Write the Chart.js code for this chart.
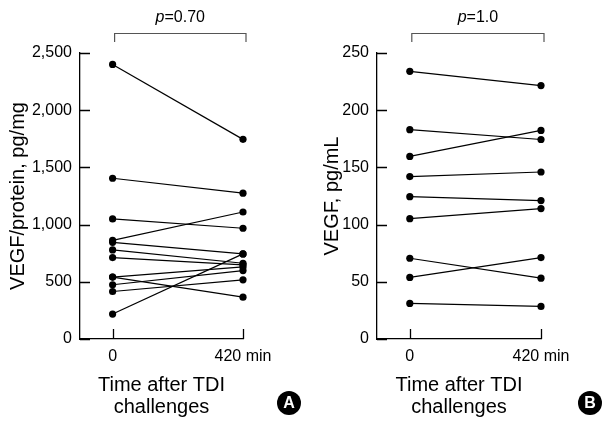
<!DOCTYPE html>
<html>
<head>
<meta charset="utf-8">
<script src="https://cdn.jsdelivr.net/npm/chart.js@4.4.1/dist/chart.umd.min.js"></script>
<style>
  html, body { margin: 0; padding: 0; background: #fff; }
  #wrap { position: relative; width: 606px; height: 423px; }
  .panel { position: absolute; top: 0; width: 303px; height: 423px; }
</style>
</head>
<body>
<div id="wrap">
  <div class="panel" style="left:0"><canvas id="chartA" width="303" height="423"></canvas></div>
  <div class="panel" style="left:303px"><canvas id="chartB" width="303" height="423"></canvas></div>
</div>
<script>
// time points on the x axis
const timeTicks = [0, 420];
const timeTickLabels = ['0', '420 min'];

// panel A: VEGF/protein, pg/mg (one pair per subject)
const proteinBefore = [2400, 1405, 1050, 862, 845, 779, 712, 541, 541, 474, 415, 218];
const proteinAfter  = [1745, 1275, 968, 1110, 744, 662, 648, 630, 366, 598, 517, 744];
const proteinTicks = [0, 500, 1000, 1500, 2000, 2500];

// panel B: VEGF, pg/mL
const vegfBefore = [234, 183, 159.6, 142, 124.4, 105.2, 70.6, 53.8, 31.1];
const vegfAfter  = [221.5, 174.4, 182.3, 146, 121, 114, 53.2, 71.2, 28.5];
const vegfTicks = [0, 50, 100, 150, 200, 250];

const FONT = "'Liberation Sans', Arial, sans-serif";

// tick marks drawn inside the axes, bracket with p value, circled letter
const decorations = {
  id: 'decorations',
  afterDraw(chart, args, opts) {
    const ctx = chart.ctx;
    const xs = chart.scales.x;
    const ys = chart.scales.y;
    ctx.save();
    ctx.strokeStyle = '#000';
    ctx.lineWidth = 1.3;
    ctx.beginPath();
    ys.ticks.forEach(function (t) {
      const py = Math.round(ys.getPixelForValue(t.value)) + 0.5;
      ctx.moveTo(ys.right, py);
      ctx.lineTo(ys.right + 10, py);
    });
    xs.ticks.forEach(function (t) {
      const px = Math.round(xs.getPixelForValue(t.value)) + 0.5;
      ctx.moveTo(px, xs.top);
      ctx.lineTo(px, xs.top - 10);
    });
    ctx.stroke();

    // bracket
    const x0 = xs.getPixelForValue(timeTicks[0]) + 2;
    const x1 = xs.getPixelForValue(timeTicks[1]) + 3;
    ctx.strokeStyle = '#555';
    ctx.lineWidth = 1.2;
    ctx.beginPath();
    ctx.moveTo(x0, 42);
    ctx.lineTo(x0, 33.5);
    ctx.lineTo(x1, 33.5);
    ctx.lineTo(x1, 42);
    ctx.stroke();

    // p value text, italic p
    ctx.fillStyle = '#000';
    ctx.textBaseline = 'middle';
    ctx.font = 'italic 16px ' + FONT;
    const wp = ctx.measureText('p').width;
    ctx.font = '16px ' + FONT;
    const rest = '=' + opts.p;
    const wr = ctx.measureText(rest).width;
    const cx = (x0 + x1) / 2;
    let tx = cx - (wp + wr) / 2;
    ctx.font = 'italic 16px ' + FONT;
    ctx.textAlign = 'left';
    ctx.fillText('p', tx, 18);
    ctx.font = '16px ' + FONT;
    ctx.fillText(rest, tx + wp, 18);

    // circled panel letter
    ctx.beginPath();
    ctx.arc(opts.letterX, 403, 12, 0, Math.PI * 2);
    ctx.fillStyle = '#000';
    ctx.fill();
    ctx.fillStyle = '#fff';
    ctx.font = 'bold 16px ' + FONT;
    ctx.textAlign = 'center';
    ctx.fillText(opts.letter, opts.letterX, 404);
    ctx.restore();
  }
};

function makeDatasets(before, after) {
  const sets = [];
  for (let i = 0; i < before.length; i++) {
    sets.push({
      data: [{ x: timeTicks[0], y: before[i] }, { x: timeTicks[1], y: after[i] }],
      showLine: true,
      borderColor: '#000',
      borderWidth: 1.2,
      pointRadius: 3.6,
      pointHoverRadius: 3.6,
      pointBackgroundColor: '#000',
      pointBorderWidth: 0,
      clip: false,
    });
  }
  return sets;
}

function makeChart(canvasId, cfg) {
  const ctx = document.getElementById(canvasId).getContext('2d');
  return new Chart(ctx, {
    type: 'scatter',
    data: { datasets: makeDatasets(cfg.before, cfg.after) },
    plugins: [decorations],
    options: {
      responsive: false,
      animation: false,
      events: [],
      layout: { padding: { left: 0, top: 53, right: cfg.padRight, bottom: 0 } },
      plugins: {
        legend: { display: false },
        tooltip: { enabled: false },
        decorations: { p: cfg.p, letter: cfg.letter, letterX: cfg.letterX },
      },
      scales: {
        x: {
          type: 'linear',
          min: -105,
          max: 420,
          afterBuildTicks: function (scale) {
            scale.ticks = timeTicks.map(function (v) { return { value: v }; });
          },
          afterFit: function (scale) { scale.height = 84; },
          grid: { display: false, drawTicks: false },
          border: { color: '#000', width: 1.3 },
          ticks: {
            padding: 8,
            color: '#000',
            font: { family: FONT, size: 16 },
            maxRotation: 0,
            autoSkip: false,
            callback: function (value) {
              const i = timeTicks.indexOf(value);
              return i >= 0 ? timeTickLabels[i] : '';
            },
          },
          title: {
            display: true,
            text: ['Time after TDI', 'challenges'],
            color: '#000',
            font: { family: FONT, size: 20, lineHeight: 1.1 },
            padding: { top: 0, bottom: 5 },
          },
        },
        y: {
          min: 0,
          max: cfg.ticks[cfg.ticks.length - 1],
          afterBuildTicks: function (scale) {
            scale.ticks = cfg.ticks.map(function (v) { return { value: v }; });
          },
          afterFit: function (scale) { scale.width = cfg.axisLeft; },
          grid: { display: false, drawTicks: false },
          border: { color: '#000', width: 1.3 },
          ticks: {
            padding: 8,
            color: '#000',
            font: { family: FONT, size: 16 },
            callback: function (value) { return value.toLocaleString('en-US'); },
          },
          title: {
            display: true,
            text: cfg.title,
            color: '#000',
            font: { family: FONT, size: 20, lineHeight: 1.1 },
            padding: { top: cfg.titlePad, bottom: 0 },
          },
        },
      },
    },
  });
}

makeChart('chartA', {
  before: proteinBefore, after: proteinAfter, ticks: proteinTicks,
  title: 'VEGF/protein, pg/mg', p: '0.70', letter: 'A', letterX: 289,
  axisLeft: 80, padRight: 60, titlePad: 7,
});

makeChart('chartB', {
  before: vegfBefore, after: vegfAfter, ticks: vegfTicks,
  title: 'VEGF, pg/mL', p: '1.0', letter: 'B', letterX: 287,
  axisLeft: 74, padRight: 65, titlePad: 18,
});
</script>
</body>
</html>
